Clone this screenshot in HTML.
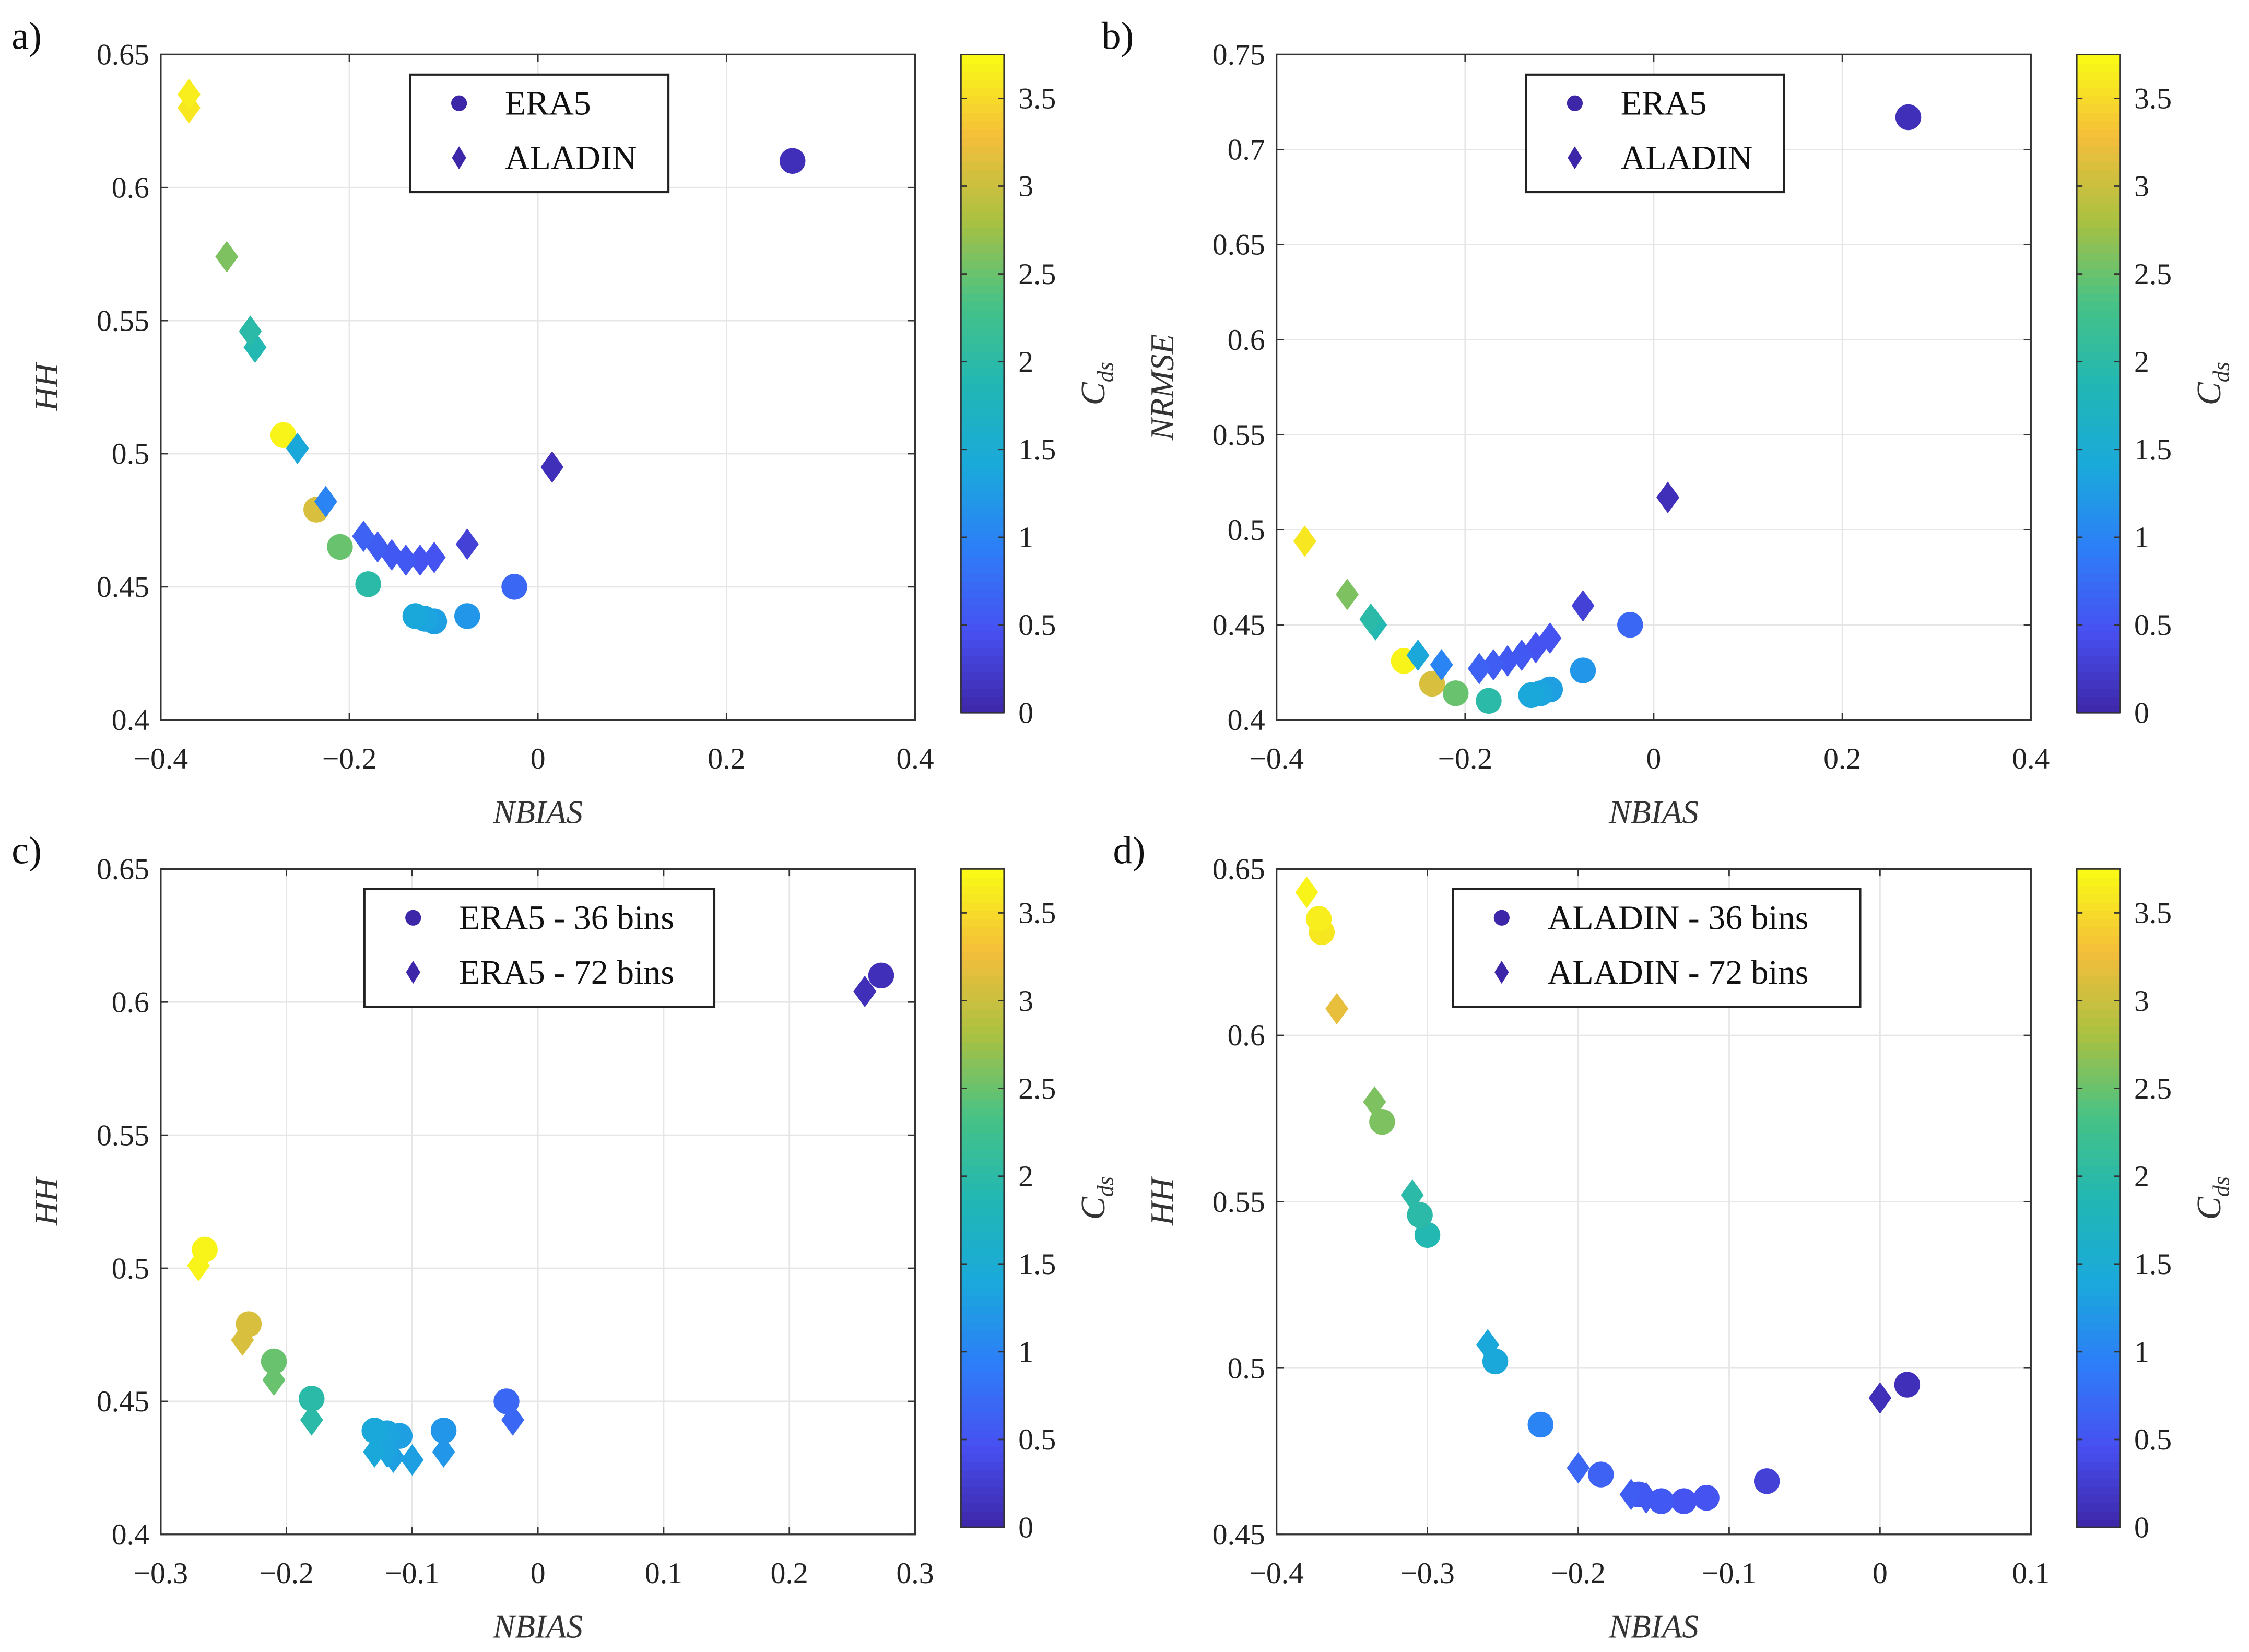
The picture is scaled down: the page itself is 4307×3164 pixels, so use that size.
<!DOCTYPE html>
<html><head><meta charset="utf-8"><style>
html,body{margin:0;padding:0;background:#fff;}
svg{display:block;font-family:"Liberation Serif",serif;}
svg text{font-family:"Liberation Serif",serif;}
</style></head><body>
<svg id="fig" width="4307" height="3164" viewBox="0 0 1568 1152" font-family="Liberation Serif, serif" style="font-family:'Liberation Serif',serif" xmlns="http://www.w3.org/2000/svg"></svg>
<script>
// Panel a: HH vs NBIAS
const aEraX=[0.27,-0.025,-0.075,-0.11,-0.12,-0.13,-0.18,-0.21,-0.235,-0.27];
const aEraY=[0.61,0.45,0.439,0.437,0.438,0.439,0.451,0.465,0.479,0.507];
const aEraC=[0.1,0.7,1.2,1.3,1.35,1.4,2.0,2.5,3.1,3.7];
const aAlaX=[0.015,-0.075,-0.11,-0.125,-0.14,-0.155,-0.17,-0.185,-0.225,-0.255,-0.3,-0.305,-0.33,-0.37,-0.37];
const aAlaY=[0.495,0.466,0.461,0.460,0.460,0.462,0.465,0.469,0.482,0.502,0.540,0.546,0.574,0.630,0.635];
const aAlaC=[0.1,0.3,0.5,0.5,0.55,0.55,0.6,0.65,1.0,1.4,1.9,2.0,2.6,3.6,3.65];
// Panel b: NRMSE vs NBIAS
const bEraX=[0.27,-0.025,-0.075,-0.11,-0.12,-0.13,-0.175,-0.21,-0.235,-0.265];
const bEraY=[0.717,0.45,0.426,0.416,0.414,0.413,0.41,0.414,0.419,0.431];
const bEraC=[0.1,0.7,1.2,1.3,1.35,1.4,2.0,2.5,3.1,3.7];
const bAlaX=[0.015,-0.075,-0.11,-0.125,-0.14,-0.155,-0.17,-0.185,-0.225,-0.25,-0.295,-0.3,-0.325,-0.37];
const bAlaY=[0.517,0.46,0.443,0.438,0.434,0.431,0.429,0.427,0.429,0.434,0.450,0.453,0.466,0.494];
const bAlaC=[0.1,0.3,0.5,0.5,0.55,0.55,0.6,0.65,1.0,1.4,1.9,2.0,2.6,3.6];
// Panel c: ERA5 36 vs 72 bins
const cAX=[0.273,-0.025,-0.075,-0.11,-0.12,-0.13,-0.18,-0.21,-0.23,-0.265];
const cAY=[0.61,0.45,0.439,0.437,0.438,0.439,0.451,0.465,0.479,0.507];
const cAC=[0.1,0.7,1.2,1.3,1.35,1.4,2.0,2.5,3.1,3.7];
const cBX=[0.26,-0.02,-0.075,-0.1,-0.115,-0.12,-0.13,-0.18,-0.21,-0.235,-0.27];
const cBY=[0.604,0.443,0.431,0.428,0.429,0.431,0.431,0.443,0.458,0.473,0.501];
const cBC=[0.1,0.7,1.2,1.3,1.3,1.35,1.4,2.0,2.5,3.1,3.7];
// Panel d: ALADIN 36 vs 72 bins
const dAX=[0.018,-0.075,-0.115,-0.13,-0.145,-0.16,-0.185,-0.225,-0.255,-0.3,-0.305,-0.33,-0.37,-0.372];
const dAY=[0.495,0.466,0.461,0.460,0.460,0.462,0.468,0.483,0.502,0.540,0.546,0.574,0.631,0.635];
const dAC=[0.1,0.3,0.5,0.5,0.55,0.55,0.65,1.0,1.4,1.9,2.0,2.6,3.6,3.65];
const dBX=[0,-0.155,-0.165,-0.2,-0.26,-0.31,-0.335,-0.36,-0.38];
const dBY=[0.491,0.461,0.462,0.470,0.507,0.552,0.580,0.608,0.643];
const dBC=[0.1,0.55,0.6,0.7,1.4,2.0,2.6,3.2,3.7];
const cbTicks=[0,0.5,1,1.5,2,2.5,3,3.5];
const CMAX=3.75;

const NS="http://www.w3.org/2000/svg";
const svg=document.getElementById('fig');
function el(tag,attrs,parent){const e=document.createElementNS(NS,tag);for(const k in attrs)e.setAttribute(k,attrs[k]);(parent||svg).appendChild(e);return e;}
const stops=[[0,[62,38,168]],[0.125,[71,80,241]],[0.25,[45,126,248]],[0.375,[26,169,219]],[0.5,[33,183,179]],[0.625,[72,194,133]],[0.75,[171,193,65]],[0.875,[244,190,59]],[1,[249,251,21]]];
function cmap(v){let t=Math.max(0,Math.min(1,v/CMAX));for(let i=1;i<stops.length;i++){if(t<=stops[i][0]){const a=stops[i-1],b=stops[i];const f=(t-a[0])/(b[0]-a[0]);const c=a[1].map((x,j)=>Math.round(x+(b[1][j]-x)*f));return `rgb(${c})`;}}return 'rgb(249,251,21)';}
function fmt(v){let s=(Math.round(v*1000)/1000).toString();return s.replace('-','\u2212');}

function panel(o){
  const g=el('g',{});
  
  
  const {x0,x1,y0,y1}=o;
  const sx=v=>x0+(v-o.xmin)/(o.xmax-o.xmin)*(x1-x0);
  const sy=v=>y1-(v-o.ymin)/(o.ymax-o.ymin)*(y1-y0);
  el('rect',{x:x0,y:y0,width:x1-x0,height:y1-y0,fill:'#fff'},g);
  o.xt.forEach(v=>{const x=sx(v);
    el('line',{x1:x,x2:x,y1:y0,y2:y1,stroke:'#e6e6e6','stroke-width':1},g);
    el('line',{x1:x,x2:x,y1:y1,y2:y1-5,stroke:'#333','stroke-width':1},g);
    el('line',{x1:x,x2:x,y1:y0,y2:y0+5,stroke:'#333','stroke-width':1},g);
    const t=el('text',{x:x,y:y1+34,'font-size':21,'text-anchor':'middle',fill:'#222'},g);t.textContent=fmt(v);
    
    });
  o.yt.forEach(v=>{const y=sy(v);
    el('line',{x1:x0,x2:x1,y1:y,y2:y,stroke:'#e6e6e6','stroke-width':1},g);
    el('line',{x1:x0,x2:x0+5,y1:y,y2:y,stroke:'#333','stroke-width':1},g);
    el('line',{x1:x1,x2:x1-5,y1:y,y2:y,stroke:'#333','stroke-width':1},g);
    const t=el('text',{x:x0-8,y:y+7,'font-size':21,'text-anchor':'end',fill:'#222'},g);t.textContent=fmt(v);
    
    });
  el('rect',{x:x0,y:y0,width:x1-x0,height:y1-y0,fill:'none',stroke:'#333','stroke-width':1.2},g);
  o.series.forEach(s=>{
    s.x.forEach((xv,i)=>{const cx=sx(xv),cy=sy(s.y[i]);const c=cmap(s.c[i]);let m;
      if(s.m==='o')m=el('circle',{cx:cx,cy:cy,r:9,fill:c},g);
      else m=el('polygon',{points:`${cx},${cy-11} ${cx+8},${cy} ${cx},${cy+11} ${cx-8},${cy}`,fill:c},g);
      
      });
  });
  const L=o.leg;
  const lg=el('g',{},g);
  
  
  el('rect',{x:L.x,y:L.y,width:L.w,height:82,fill:'#fff',stroke:'#222','stroke-width':1.5},lg);
  L.items.forEach((it,i)=>{const yy=L.y+20+i*38;const mx=L.x+34;
    if(i===0)el('circle',{cx:mx,cy:yy,r:5.5,fill:'#3e26a8'},lg);
    else el('polygon',{points:`${mx},${yy-8} ${mx+5},${yy} ${mx},${yy+8} ${mx-5},${yy}`,fill:'#3e26a8'},lg);
    const t=el('text',{x:L.x+66,y:yy+8,'font-size':24,fill:'#111'},lg);t.textContent=it;
    
    });
  const xl=el('text',{x:(x0+x1)/2,y:y1+72,'font-size':23,'font-style':'italic','text-anchor':'middle',fill:'#333'},g);xl.textContent='NBIAS';
  
  
  const yx=x0-72,yy=(y0+y1)/2;
  const yl=el('text',{x:yx,y:yy,'font-size':23,'font-style':'italic','text-anchor':'middle',fill:'#333',transform:`rotate(-90 ${yx} ${yy})`},g);yl.textContent=o.ylab;
  
  
  const pl=el('text',{x:o.lx,y:y0-4,'font-size':27,fill:'#111'},g);pl.textContent=o.letter;
  
  
  const cbx=x1+32,cbw=30,cbt=y0,cbb=y1-5;
  const cb=el('g',{},g);
  
  
  const n=80;for(let i=0;i<n;i++){const v0=i/n*CMAX;const yA=cbb-(i+1)/n*(cbb-cbt);el('rect',{x:cbx,y:yA,width:cbw,height:(cbb-cbt)/n+0.6,fill:cmap(v0+CMAX/n/2)},cb);}
  el('rect',{x:cbx,y:cbt,width:cbw,height:cbb-cbt,fill:'none',stroke:'#333','stroke-width':1},cb);
  cbTicks.forEach(v=>{const y=cbb-v/CMAX*(cbb-cbt);
    el('line',{x1:cbx,x2:cbx+4,y1:y,y2:y,stroke:'#333'},cb);el('line',{x1:cbx+cbw,x2:cbx+cbw-4,y1:y,y2:y,stroke:'#333'},cb);
    const t=el('text',{x:cbx+40,y:y+7,'font-size':21,fill:'#222'},cb);t.textContent=String(v);
    
    });
  const cx=cbx+100,cy=(cbt+cbb)/2;
  const ct=el('text',{x:cx,y:cy,'font-size':24,'font-style':'italic','text-anchor':'middle',fill:'#333',transform:`rotate(-90 ${cx} ${cy})`},cb);
  ct.innerHTML='C<tspan font-size="16" dy="6">ds</tspan>';
  
  
}
panel({name:'panel-a',letter:'a)',lx:8,x0:112,x1:638,y0:38,y1:502,xmin:-0.4,xmax:0.4,ymin:0.4,ymax:0.65,
  xt:[-0.4,-0.2,0,0.2,0.4],yt:[0.4,0.45,0.5,0.55,0.6,0.65],ylab:'HH',
  leg:{x:286,y:52,w:180,items:['ERA5','ALADIN']},
  series:[{x:aEraX,y:aEraY,c:aEraC,m:'o',mark:'era5-point'},{x:aAlaX,y:aAlaY,c:aAlaC,m:'d',mark:'aladin-point'}]});
panel({name:'panel-b',letter:'b)',lx:768,x0:890,x1:1416,y0:38,y1:502,xmin:-0.4,xmax:0.4,ymin:0.4,ymax:0.75,
  xt:[-0.4,-0.2,0,0.2,0.4],yt:[0.4,0.45,0.5,0.55,0.6,0.65,0.7,0.75],ylab:'NRMSE',
  leg:{x:1064,y:52,w:180,items:['ERA5','ALADIN']},
  series:[{x:bEraX,y:bEraY,c:bEraC,m:'o',mark:'era5-point'},{x:bAlaX,y:bAlaY,c:bAlaC,m:'d',mark:'aladin-point'}]});
panel({name:'panel-c',letter:'c)',lx:8,x0:112,x1:638,y0:606,y1:1070,xmin:-0.3,xmax:0.3,ymin:0.4,ymax:0.65,
  xt:[-0.3,-0.2,-0.1,0,0.1,0.2,0.3],yt:[0.4,0.45,0.5,0.55,0.6,0.65],ylab:'HH',
  leg:{x:254,y:620,w:244,items:['ERA5 - 36 bins','ERA5 - 72 bins']},
  series:[{x:cAX,y:cAY,c:cAC,m:'o',mark:'era5-36-point'},{x:cBX,y:cBY,c:cBC,m:'d',mark:'era5-72-point'}]});
panel({name:'panel-d',letter:'d)',lx:776,x0:890,x1:1416,y0:606,y1:1070,xmin:-0.4,xmax:0.1,ymin:0.45,ymax:0.65,
  xt:[-0.4,-0.3,-0.2,-0.1,0,0.1],yt:[0.45,0.5,0.55,0.6,0.65],ylab:'HH',
  leg:{x:1013,y:620,w:284,items:['ALADIN - 36 bins','ALADIN - 72 bins']},
  series:[{x:dAX,y:dAY,c:dAC,m:'o',mark:'aladin-36-point'},{x:dBX,y:dBY,c:dBC,m:'d',mark:'aladin-72-point'}]});
</script>
</body></html>
